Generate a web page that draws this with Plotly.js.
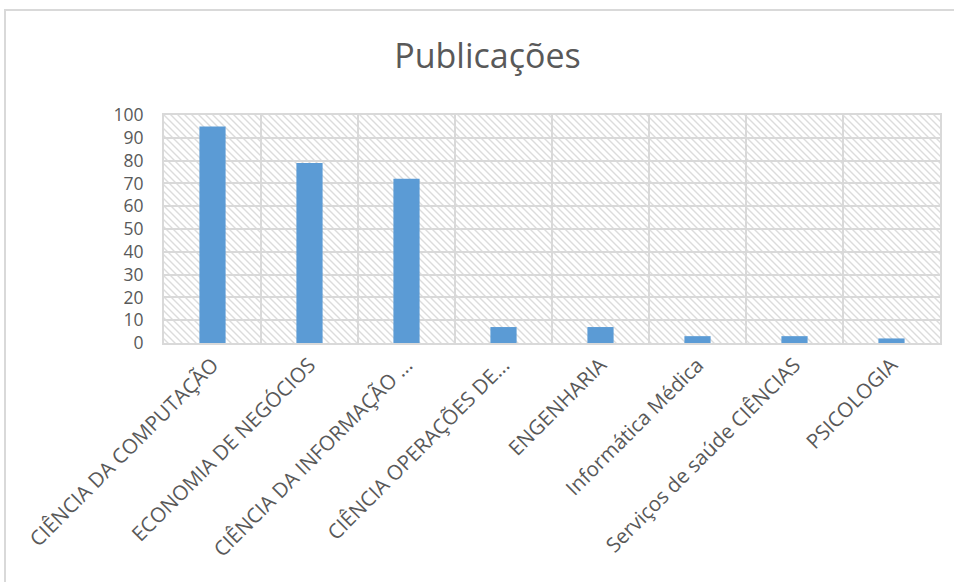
<!DOCTYPE html>
<html>
<head>
<meta charset="utf-8">
<script src="https://cdn.plot.ly/plotly-3.0.1.min.js"></script>
<style>
  html, body { margin: 0; padding: 0; background: #ffffff; overflow: hidden; }
  #wrap { position: relative; width: 954px; height: 582px; }
  #frame { position: absolute; left: 4px; top: 9px; width: 1200px; height: 900px;
           border-left: 2px solid #d9d9d9; border-top: 2px solid #d9d9d9; }
  #chart { position: absolute; left: 0; top: 0; width: 954px; height: 582px; }
</style>
</head>
<body>
<div id="wrap">
  <div id="frame"></div>
  <div id="chart"></div>
</div>
<script>
const categories = [
  "CIÊNCIA DA COMPUTAÇÃO",
  "ECONOMIA DE NEGÓCIOS",
  "CIÊNCIA DA INFORMAÇÃO ...",
  "CIÊNCIA OPERAÇÕES DE...",
  "ENGENHARIA",
  "Informática Médica",
  "Serviços de saúde CIÊNCIAS",
  "PSICOLOGIA"
];
const publicacoes = [95, 79, 72, 7, 7, 3, 3, 2];
const yTicks = [0, 10, 20, 30, 40, 50, 60, 70, 80, 90, 100];

const hatchSvg =
  '<svg xmlns="http://www.w3.org/2000/svg" width="776" height="228" preserveAspectRatio="none">' +
  '<defs><pattern id="h" width="7" height="7" patternUnits="userSpaceOnUse">' +
  '<path d="M-1,-1 L8,8 M-1,6 L1,8 M6,-1 L8,1" stroke="#dcdcdc" stroke-width="1.4"/></pattern></defs>' +
  '<rect width="776" height="228" fill="url(#h)"/></svg>';
const hatchUri = 'data:image/svg+xml;base64,' + btoa(hatchSvg);

const FONT = '"Open Sans", Lato, sans-serif';
const GREY = '#595959';
const GRID = '#d9d9d9';

const data = [{
  type: 'bar',
  x: categories,
  y: publicacoes,
  marker: { color: '#5b9bd5' },
  hoverinfo: 'x+y'
}];

const layout = {
  width: 954,
  height: 582,
  margin: { l: 164, r: 14, t: 115, b: 239 },
  paper_bgcolor: 'rgba(0,0,0,0)',
  plot_bgcolor: 'rgba(0,0,0,0)',
  bargap: 0.73,
  showlegend: false,
  title: {
    text: 'Publicações',
    font: { family: FONT, size: 34, color: GREY },
    x: 0.511, xref: 'container', xanchor: 'center',
    y: 1 - 56 / 582, yref: 'container', yanchor: 'middle'
  },
  xaxis: {
    type: 'category',
    tickson: 'boundaries',
    showgrid: true,
    gridcolor: GRID,
    gridwidth: 2,
    showline: true,
    linecolor: GRID,
    linewidth: 2,
    mirror: true,
    ticks: '',
    tickangle: -45,
    tickfont: { family: FONT, size: 20.5, color: GREY },
    fixedrange: true
  },
  yaxis: {
    range: [0, 100],
    tickvals: yTicks,
    ticktext: yTicks.map(String),
    showgrid: true,
    gridcolor: GRID,
    gridwidth: 2,
    zeroline: false,
    showline: true,
    linecolor: GRID,
    linewidth: 2,
    mirror: true,
    ticks: '',
    ticklabelstandoff: 15,
    tickfont: { family: FONT, size: 17.5, color: GREY },
    fixedrange: true
  },
  images: [{
    source: hatchUri,
    xref: 'paper', yref: 'paper',
    x: 0, y: 1, sizex: 1, sizey: 1,
    xanchor: 'left', yanchor: 'top',
    sizing: 'stretch',
    layer: 'below'
  }]
};

Plotly.newPlot('chart', data, layout, { displayModeBar: false, staticPlot: true });
</script>
</body>
</html>
